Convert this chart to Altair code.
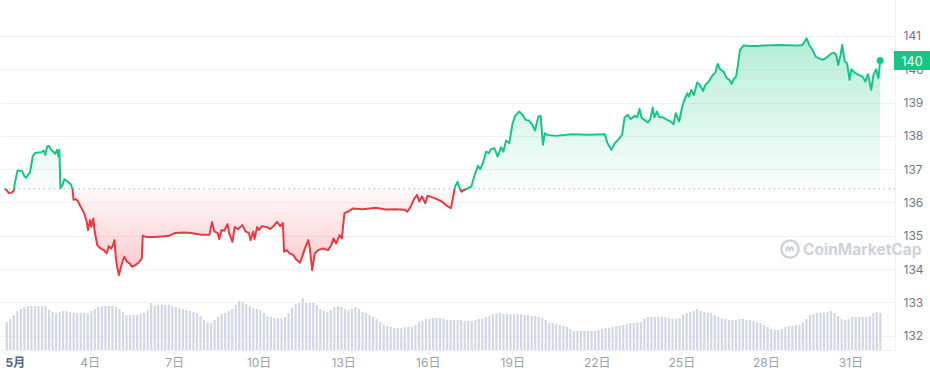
import altair as alt
import pandas as pd

# ---- data ----
BASE = 136.41  # opening price (dotted reference line)

# hours since 1 May 00:00
hours = [0.0, 3.4, 5.9, 7.6, 8.4, 10.7, 12.6, 14.6, 16.3, 17.9, 19.6, 21.3, 23.6, 25.3, 28.0, 30.9,
         33.1, 34.3, 36.0, 37.6, 39.3, 41.0, 42.7, 44.4, 45.5, 46.3, 47.2, 49.1, 50.5, 53.3, 56.2,
         57.5, 58.4, 60.4, 62.3, 64.6, 67.4, 69.6, 70.7, 72.4, 73.5, 75.2, 76.4, 78.6, 81.4, 84.2,
         86.5, 88.4, 90.4, 92.0, 93.2, 94.3, 95.4, 97.1, 98.8, 100.5, 101.6, 103.8, 106.1, 108.0,
         110.9, 113.7, 116.5, 117.3, 120.7, 126.3, 130.5, 138.9, 144.6, 153.0, 158.6, 167.0, 174.1,
         176.3, 178.3, 181.1, 182.5, 184.4, 186.7, 189.5, 190.9, 193.7, 195.6, 198.5, 202.1, 204.9,
         207.7, 209.1, 211.4, 212.5, 214.7, 216.2, 218.9, 223.2, 225.9, 228.8, 231.6, 234.4, 236.6,
         237.7, 240.0, 242.3, 245.6, 248.4, 251.2, 252.6, 255.4, 258.3, 259.6, 261.6, 263.8, 266.7,
         270.9, 275.1, 277.9, 279.8, 282.1, 284.9, 286.9, 289.1, 292.0, 296.2, 304.6, 315.8, 324.2,
         332.6, 340.5, 342.5, 345.3, 348.0, 350.9, 352.8, 355.1, 357.9, 359.8, 363.5, 367.7, 372.0,
         376.2, 379.8, 381.7, 383.2, 385.4, 387.4, 388.8, 390.1, 393.0, 397.2, 400.0, 402.8, 404.8,
         407.0, 409.8, 412.0, 414.1, 416.8, 419.6, 422.5, 424.4, 426.7, 429.5, 432.3, 434.5, 437.9,
         440.7, 443.5, 446.3, 449.1, 451.4, 454.2, 456.2, 458.1, 459.8, 461.7, 468.8, 482.8, 496.8,
         510.9, 513.1, 516.5, 519.3, 522.1, 525.5, 527.7, 530.5, 532.8, 536.2, 538.4, 540.4, 542.3,
         544.6, 547.4, 549.6, 551.6, 553.0, 555.2, 557.2, 560.0, 562.8, 567.0, 569.3, 571.2, 574.1,
         576.8, 578.8, 581.1, 582.5, 584.4, 586.7, 589.5, 591.7, 594.5, 596.5, 599.3, 602.1, 604.9,
         606.9, 609.1, 612.0, 614.7, 617.0, 618.9, 620.4, 622.6, 624.0, 625.9, 628.8, 634.3, 640.0,
         645.6, 659.6, 673.7, 679.3, 682.7, 684.9, 687.7, 690.5, 693.3, 696.2, 698.9, 703.2, 705.9,
         707.9, 709.6, 711.6, 713.0, 715.2, 717.2, 719.2, 720.8, 723.6, 727.0, 730.4, 732.6, 734.9,
         737.7, 739.6, 741.9, 743.8, 745.3]

prices = [136.42, 136.28, 136.30, 136.36, 136.59, 136.96, 136.95, 136.94, 136.80, 136.74, 136.83,
          136.90, 137.38, 137.48, 137.50, 137.51, 137.56, 137.43, 137.68, 137.70, 137.58, 137.53,
          137.46, 137.58, 137.38, 137.58, 136.43, 136.53, 136.70, 136.63, 136.53, 136.40, 136.08,
          136.10, 136.03, 135.86, 135.68, 135.42, 135.17, 135.47, 135.27, 135.52, 135.12, 134.72,
          134.62, 134.57, 134.47, 134.69, 134.62, 134.72, 134.87, 134.37, 134.07, 133.82, 134.07,
          134.27, 134.37, 134.22, 134.17, 134.07, 134.12, 134.19, 134.32, 135.00, 134.96, 134.96,
          134.97, 134.99, 135.08, 135.10, 135.08, 135.03, 135.03, 135.41, 135.13, 135.08, 134.90,
          135.17, 135.15, 135.35, 135.08, 134.82, 135.26, 135.20, 135.32, 135.13, 135.08, 134.87,
          135.13, 134.90, 135.26, 135.17, 135.29, 135.26, 135.20, 135.29, 135.42, 135.29, 135.38,
          134.52, 134.57, 134.47, 134.42, 134.27, 134.19, 134.32, 134.62, 134.87, 134.62, 133.97,
          134.47, 134.57, 134.62, 134.57, 134.72, 134.92, 134.77, 135.02, 134.92, 135.68, 135.72,
          135.82, 135.80, 135.84, 135.79, 135.80, 135.78, 135.72, 135.86, 136.08, 136.23, 136.03,
          136.18, 135.98, 136.20, 136.16, 136.10, 136.03, 135.90, 135.83, 136.17, 136.47, 136.62,
          136.42, 136.32, 136.36, 136.41, 136.48, 136.83, 137.10, 137.00, 137.18, 137.53, 137.48,
          137.61, 137.63, 137.38, 137.66, 137.53, 137.86, 137.78, 138.38, 138.60, 138.73, 138.63,
          138.48, 138.46, 138.33, 138.16, 138.58, 138.60, 137.73, 138.08, 138.03, 138.00, 138.05,
          138.03, 138.05, 137.78, 137.58, 137.78, 137.88, 138.03, 138.56, 138.63, 138.50, 138.60,
          138.56, 138.81, 138.53, 138.48, 138.40, 138.50, 138.85, 138.56, 138.73, 138.56, 138.56,
          138.50, 138.43, 138.35, 138.68, 138.43, 138.88, 139.10, 139.28, 139.18, 139.38, 139.23,
          139.60, 139.53, 139.35, 139.53, 139.63, 139.80, 139.90, 140.16, 140.00, 139.93, 139.73,
          139.68, 139.56, 139.70, 139.78, 140.08, 140.58, 140.71, 140.70, 140.70, 140.71, 140.73,
          140.71, 140.73, 140.93, 140.73, 140.58, 140.38, 140.33, 140.28, 140.33, 140.46, 140.50,
          140.43, 140.13, 140.43, 140.73, 140.23, 140.18, 139.68, 140.00, 139.90, 139.83, 139.78,
          139.63, 139.85, 139.38, 139.83, 140.00, 139.73, 140.26]

# relative trading volume, one bar per 3 hours
volume = [28, 31, 35, 39, 41, 43, 44, 44,
          44, 44, 44, 44, 40, 38, 37, 38,
          39, 39, 38, 37, 37, 37, 37, 37,
          39, 41, 43, 44, 44, 44, 44, 43,
          41, 38, 35, 35, 35, 35, 36, 37,
          40, 47, 44, 45, 45, 45, 45, 44,
          43, 42, 41, 40, 39, 38, 37, 34,
          30, 27, 27, 30, 33, 36, 37, 39,
          41, 45, 49, 48, 46, 44, 42, 41,
          40, 37, 34, 33, 32, 32, 32, 33,
          37, 42, 46, 47, 52, 47, 47, 47,
          45, 41, 39, 38, 40, 43, 44, 43,
          41, 40, 41, 43, 41, 38, 37, 35,
          33, 31, 28, 25, 24, 23, 22, 22,
          22, 23, 23, 23, 25, 28, 29, 31,
          31, 32, 32, 32, 31, 30, 30, 30,
          30, 30, 29, 29, 29, 30, 31, 31,
          33, 34, 36, 37, 37, 36, 36, 36,
          36, 36, 36, 35, 35, 34, 34, 33,
          32, 30, 27, 27, 26, 25, 24, 23,
          21, 19, 19, 19, 19, 19, 19, 19,
          20, 21, 22, 22, 23, 24, 24, 25,
          26, 27, 27, 28, 28, 31, 33, 33,
          33, 33, 33, 33, 32, 31, 31, 32,
          35, 37, 38, 39, 41, 39, 38, 37,
          37, 35, 33, 32, 31, 30, 30, 30,
          31, 31, 30, 30, 29, 28, 27, 25,
          23, 21, 20, 20, 21, 23, 24, 24,
          25, 25, 27, 31, 35, 36, 37, 37,
          37, 38, 39, 37, 34, 31, 30, 31,
          33, 33, 33, 33, 33, 34, 37, 38,
          37]
vol_hours = [1.5 + 3 * i for i in range(len(volume))]

x_ticks = [0, 72, 144, 216, 288, 360, 432, 504, 576, 648, 720]
y_ticks = [132, 133, 134, 135, 136, 137, 138, 139, 140, 141]

# ---- styling ----
GREEN = "#16c784"
RED = "#ea3943"
FONT = "Inter, 'Noto Sans CJK JP', sans-serif"
W, H = 895, 350
XMAX = 753.7
YMIN, YMAX = 131.57, 142.08

df = pd.DataFrame({"h": hours, "p": prices})
df["up"] = df["p"].clip(lower=BASE)
df["down"] = df["p"].clip(upper=BASE)
df["base"] = BASE
vdf = pd.DataFrame({"h": vol_hours, "v": volume})
last = df.tail(1)
base_df = pd.DataFrame({"base": [BASE]})

pmax, pmin = max(prices), min(prices)
frac = (pmax - BASE) / (pmax - pmin)

x_enc = alt.X(
    "h:Q",
    scale=alt.Scale(domain=[0, XMAX], nice=False, zero=False),
    axis=alt.Axis(
        values=x_ticks,
        labelExpr="datum.value == 0 ? '5月' : (datum.value / 24 + 1) + '日'",
        grid=False,
        domain=True, domainColor="#eff2f5",
        ticks=True, tickSize=4, tickColor="#e6e9ee",
        labelPadding=3, labelFontSize=12, labelFont=FONT,
        labelColor={"condition": {"test": "datum.value == 0", "value": "#58667e"}, "value": "#98a0ad"},
        labelFontWeight={"condition": {"test": "datum.value == 0", "value": "bold"}, "value": "normal"},
        labelAlign={"condition": {"test": "datum.value == 0", "value": "left"}, "value": "center"},
        title=None,
    ),
)

y_scale = alt.Scale(domain=[YMIN, YMAX], nice=False, zero=False)
y_axis = alt.Axis(
    orient="right", values=y_ticks, grid=True, gridColor="#eff2f5",
    domain=True, domainColor="#eff2f5", ticks=False, labelPadding=8,
    labelFontSize=12, labelFont=FONT, labelColor="#6f7889", title=None,
)

def Y(field):
    return alt.Y(field, scale=y_scale, axis=y_axis)

volume_layer = alt.Chart(vdf).mark_bar(width=2.2, color="#d1d8e4").encode(
    x=x_enc,
    y=alt.Y("v:Q", scale=alt.Scale(domain=[0, H], nice=False, zero=True), axis=None),
)

green_fill = alt.LinearGradient(
    gradient="linear", x1=0, y1=0, x2=0, y2=1,
    stops=[alt.GradientStop(color="rgba(22,199,132,0.32)", offset=0),
           alt.GradientStop(color="rgba(22,199,132,0.02)", offset=1)],
)
red_fill = alt.LinearGradient(
    gradient="linear", x1=0, y1=0, x2=0, y2=1,
    stops=[alt.GradientStop(color="rgba(234,57,67,0.03)", offset=0),
           alt.GradientStop(color="rgba(234,57,67,0.28)", offset=1)],
)
line_stroke = alt.LinearGradient(
    gradient="linear", x1=0, y1=0, x2=0, y2=1,
    stops=[alt.GradientStop(color=GREEN, offset=0),
           alt.GradientStop(color=GREEN, offset=frac),
           alt.GradientStop(color=RED, offset=frac),
           alt.GradientStop(color=RED, offset=1)],
)

area_up = alt.Chart(df).mark_area(fill=green_fill, strokeWidth=0).encode(
    x=x_enc, y=Y("up:Q"), y2="base:Q")
area_down = alt.Chart(df).mark_area(fill=red_fill, strokeWidth=0).encode(
    x=x_enc, y=Y("down:Q"), y2="base:Q")
rule = alt.Chart(base_df).mark_rule(color="#a6b0c3", strokeDash=[1.5, 3.5], strokeWidth=1).encode(
    y=Y("base:Q"))
line = alt.Chart(df).mark_line(stroke=line_stroke, strokeWidth=2, strokeJoin="round").encode(
    x=x_enc, y=Y("p:Q"))
dot = alt.Chart(last).mark_circle(size=50, color=GREEN, opacity=1).encode(x=x_enc, y=Y("p:Q"))
box = alt.Chart(last).mark_point(
    shape="M-1,-0.5H1V0.5H-1Z", size=1444, filled=True, color=GREEN, opacity=1
).encode(x=alt.value(913), y=Y("p:Q"))
box_text = alt.Chart(last).mark_text(
    color="white", fontSize=12.5, font=FONT, align="center", baseline="middle", dy=1
).encode(x=alt.value(912), y=Y("p:Q"), text=alt.Text("p:Q", format=".0f"))

price_layer = alt.layer(area_up, area_down, rule, line, dot, box, box_text)

wm = pd.DataFrame({"t": ["CoinMarketCap"]})
WM = "#cdd2da"
logo = alt.Chart(wm).mark_point(shape="circle", size=300, strokeWidth=2.4, color=WM, filled=False,
                                opacity=1).encode(x=alt.value(790), y=alt.value(249))
logo_m = alt.Chart(wm).mark_point(
    shape="M-0.55,0.45L-0.55,-0.1Q-0.3,-0.6 -0.05,0.1Q0.2,-0.6 0.45,-0.1L0.45,0.35",
    size=150, strokeWidth=2.2, color=WM, filled=False, opacity=1,
).encode(x=alt.value(790), y=alt.value(249))
wm_text = alt.Chart(wm).mark_text(
    fontSize=15.5, fontWeight="bold", font=FONT, color=WM, align="left", baseline="middle"
).encode(x=alt.value(803), y=alt.value(250), text="t:N")

chart = alt.layer(volume_layer, logo, logo_m, wm_text, price_layer).resolve_scale(
    y="independent"
).properties(
    width=W, height=H,
    padding={"left": 0, "top": 0, "right": 35, "bottom": 26},
    autosize=alt.AutoSizeParams(type="none"),
    background="white",
).configure_view(stroke=None)

chart.save("out.html", embed_options={"renderer": "svg", "actions": False})
